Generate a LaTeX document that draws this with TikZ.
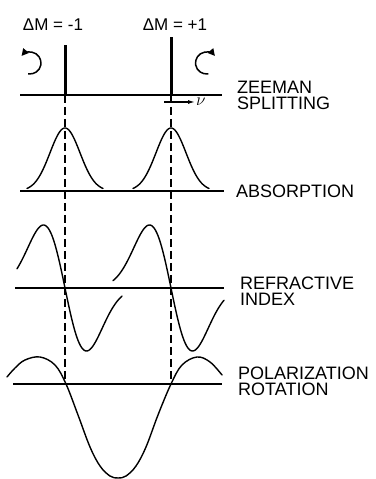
\documentclass[tikz,border=0pt]{standalone}
\usepackage{fontspec}
\setmainfont{Liberation Sans}
\usetikzlibrary{arrows.meta}
\begin{document}
\begin{tikzpicture}[x=1pt,y=1pt,
  curve/.style={line width=1.4pt, line join=round, line cap=round},
  base/.style={line width=1.3pt},
  bar/.style={line width=3pt},
  guide/.style={line width=1.2pt, dash pattern=on 8pt off 4pt},
  lab/.style={anchor=west, align=left, inner sep=0pt, font=\fontsize{18}{16.5}\selectfont},
  dm/.style={inner sep=0pt, font=\fontsize{17}{17}\selectfont},
  rot/.style={line width=1.5pt, -{Triangle[length=7pt,width=7pt]}},
  nuarrow/.style={line width=1.2pt, -{Latex[length=7pt,width=4pt]}}
]
\useasboundingbox (0,0) rectangle (375,479);

% named coordinates
\coordinate (zL) at (65,384);
\coordinate (zR) at (171,384);
\coordinate (pL) at (65,95);
\coordinate (pR) at (171,95);
\coordinate (bLt) at (65,434);
\coordinate (bRt) at (171,442);
\coordinate (z0) at (20,384);
\coordinate (z1) at (222,384);
\coordinate (a0) at (20,288);
\coordinate (a1) at (224,288);
\coordinate (r0) at (15,191);
\coordinate (r1) at (224,191);
\coordinate (p0) at (13,95);
\coordinate (p1) at (222,95);
\coordinate (cL) at (30,416);
\coordinate (cR) at (206.5,416);
\coordinate (nuS) at (164,377);

% labels
\node[dm] (dmL) at (53,454.5) {ΔM = -1};
\node[dm] (dmR) at (175,454.5) {ΔM = +1};
\node[lab] (zee) at (237,383.5) {ZEEMAN\\SPLITTING};
\node[lab] (abs) at (236,287.5) {ABSORPTION};
\node[lab] (ref) at (240,188) {REFRACTIVE\\INDEX};
\node[lab] (pol) at (238,97.5) {POLARIZATION\\ROTATION};
\node[anchor=west, inner sep=1pt, font=\fontsize{18}{18}\selectfont] (nu) at (195,377) {$\nu$};

% baselines
\draw[base] (z0) -- (z1);
\draw[base] (a0) -- (a1);
\draw[base] (r0) -- (r1);
\draw[base] (p0) -- (p1);

% Zeeman lines
\draw[bar] (zL) -- (bLt);
\draw[bar] (zR) -- (bRt);

% dashed guides
\draw[guide] (zL) -- (pL);
\draw[guide] (zR) -- (pR);

% circular polarisation arrows
\draw[rot] ([shift={(-100:11)}]cL) arc[start angle=-100, end angle=140, radius=11];
\draw[rot] ([shift={(280:11)}]cR) arc[start angle=280, end angle=40, radius=11];

% frequency arrow
\draw[nuarrow] (nuS) -- (nu.west);

% absorption
\draw[curve] plot[domain=-38:38, samples=70] ({65+\x},{288+63*exp(-(\x)*(\x)/(2*15*15))});
\draw[curve] plot[domain=-38:38, samples=70] ({171+\x},{288+63*exp(-(\x)*(\x)/(2*15*15))});

% refractive index
\draw[curve] plot[domain=-48:57, samples=90] ({65+\x},{191+63*(-(\x)/21.5)*exp(0.5-(\x)*(\x)/(2*21.5*21.5))});
\draw[curve] plot[domain=-58:53, samples=90] ({171+\x},{191+63*(-(\x)/21.5)*exp(0.5-(\x)*(\x)/(2*21.5*21.5))});

% polarization rotation
\draw[curve] plot[smooth, tension=0.6] coordinates {
  (7,102) (15,111) (25,119) (40,122) (55,114) (66,95) (78,64) (90,32)
  (100,13) (110,3) (118,1) (126,3) (136,13) (146,32) (158,64) (171,95)
  (182,114) (197,122) (210,117) (222,104)};
\end{tikzpicture}
\end{document}
